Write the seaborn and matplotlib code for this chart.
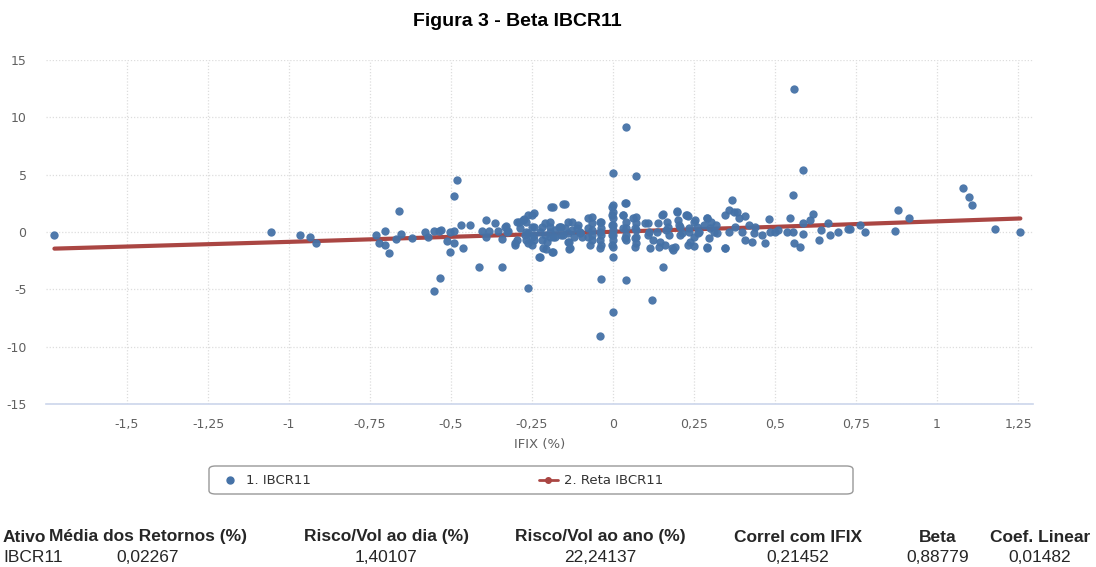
import matplotlib
matplotlib.use("Agg")
import matplotlib.pyplot as plt
import seaborn as sns
import pandas as pd
from matplotlib.lines import Line2D
from matplotlib.patches import FancyBboxPatch

# ---------------- data ----------------
ifix_x = [
    -1.724, -1.057, -0.966, -0.936, -0.916,
    -0.733, -0.722, -0.704, -0.704, -0.692, -0.660, -0.671, -0.653, -0.621, -0.581,
    -0.570, -0.552, -0.537, -0.531, -0.534, -0.513, -0.503, -0.503, -0.492, -0.492,
    -0.481, -0.492, -0.470, -0.463, -0.442, -0.414, -0.403, -0.393, -0.393, -0.382,
    -0.364, -0.354, -0.342, -0.342, -0.331, -0.323, -0.303, -0.295, -0.290, -0.275,
    -0.261, -0.261, -0.261, -0.552,
    -0.270, -0.270, -0.270, -0.245, -0.245, -0.245, -0.245, -0.224, -0.224, -0.209,
    -0.209, -0.207, -0.204, -0.194, -0.194, -0.186, -0.184, -0.179, -0.179, -0.168,
    -0.160, -0.160, -0.148, -0.148, -0.138, -0.135, -0.135, -0.128, -0.128, -0.122,
    -0.107, -0.102, -0.097, -0.066, -0.066, -0.066, -0.066, -0.066, -0.036, -0.036,
    -0.036, -0.036, -0.036, 0.0, 0.0, 0.0, 0.0, 0.0, 0.0, 0.0,
    0.0, 0.0, 0.0, 0.031, 0.041, 0.041, 0.041, 0.041, 0.041, 0.041,
    0.071, 0.071, 0.071, 0.071, 0.071, 0.071, 0.107, 0.112, 0.122, 0.138,
    0.143, 0.153, 0.153, 0.163, 0.168, 0.173, 0.184, 0.191, 0.197, 0.199,
    0.207, 0.214, 0.224, 0.230,
    0.230, 0.235, 0.25, 0.25, 0.25, 0.260, 0.265, 0.281, 0.291, 0.291,
    0.296, 0.301, 0.311, 0.318, 0.347, 0.347, 0.357, 0.357, 0.367, 0.372,
    0.377, 0.382, 0.388, 0.398, 0.408, 0.408, 0.418, 0.428, 0.434, 0.439,
    0.459, 0.469, 0.480, 0.485, 0.5, 0.510, 0.536, 0.546, 0.556, 0.556,
    0.558, 0.577, 0.585, 0.587, 0.587, 0.607, 0.617, 0.636, 0.643, 0.663,
    0.668, 0.694,
    0.724, 0.732, 0.762, 0.779, 0.869, 0.879, 0.912, 1.080, 1.100, 1.109,
    1.178, 1.257,
    0.559, 0.040, 0.001, -0.039, 0.119, -0.261,
    -0.333, -0.328, -0.297, -0.287, -0.302, -0.277, -0.272, -0.251, -0.251, -0.251,
    -0.251, -0.230, -0.220, -0.220, -0.215, -0.192, -0.194, -0.194, -0.189, -0.184,
    -0.164, -0.153, -0.153, -0.138, -0.138, -0.133, -0.112, -0.102, -0.076, -0.076,
    -0.076, -0.071, -0.040, -0.040, -0.040, -0.040, -0.004, -0.004, -0.004, -0.004,
    -0.004,
    0.037, 0.032, 0.032, 0.037, 0.063, 0.068, 0.068, 0.068, 0.099, 0.109,
    0.114, 0.135, 0.145, 0.150, 0.160, 0.171, 0.181, 0.197, 0.202, 0.207,
    0.227, 0.233, 0.238, 0.253, 0.263, 0.289, 0.289, 0.299, 0.320, 0.346,
]
ibcr_y = [
    -0.26, 0.03, -0.26, -0.44, -0.96,
    -0.29, -0.99, 0.09, -1.14, -1.84, 1.84, -0.61, -0.18, -0.50, -0.03,
    -0.47, 0.09, 0.09, 0.18, -3.98, -0.82, -1.73, -0.03, 0.09, 3.16,
    4.56, -0.99, 0.61, -1.43, 0.61, -3.04, 0.09, 1.02, -0.41, 0.12,
    0.76, 0.09, -0.61, -3.04, 0.50, 0.09, -1.14, -0.70, 0.91, 1.11,
    1.49, -0.12, -0.99, -5.14,
    0.91, 0.03, -0.70, 1.64, 0.47, -0.26, -0.70, -2.16, 0.03, 0.76,
    -0.26, -1.52, -0.85, 0.47, -0.41, 2.22, -1.73, 0.18, -0.41, 0.47,
    0.47, -0.26, 2.46, 0.32, -0.12, -0.85, -1.52, 0.91, 0.18, -0.41,
    0.61, 0.03, -0.41, 1.35, 0.76, 0.18, -0.26, -0.70, 0.91, 0.32,
    -0.26, -1.14, -4.06, 5.15, 2.37, 1.78, 1.20, 0.61, 0.18, -0.26,
    -0.70, -1.29, -2.16, 1.49, 2.51, 0.91, 0.32, -0.26, -0.70, -4.21,
    4.85, 1.35, 0.76, 0.18, -0.41, -0.99, 0.76, 0.03, -0.70, 0.76,
    -1.35, 1.58, -3.04, 0.18, 0.91, -0.26, -1.58, -1.35, 1.87, 1.05,
    0.47, -0.12, 1.49, -1.14,
    1.40, 0.03, 0.91, -0.41, -1.23, 0.47, 0.03, 0.61, 1.20, -1.43,
    -0.56, 0.91, 0.03, 0.61, 1.49, -1.43, 1.93, 0.03, 2.75, 1.78,
    0.47, 1.78, 1.20, 0.03, 1.40, -0.70, 0.61, -0.85, -0.12, 0.47,
    -0.26, -0.94, 1.11, 0.03, 0.03, 0.18, 0.03, 1.20, 3.25, 0.03,
    -0.94, -1.35, 5.38, 0.76, -0.18, 1.05, 1.55, -0.70, 0.18, 0.76,
    -0.26, 0.03,
    0.23, 0.29, 0.61, 0.00, 0.12, 1.93, 1.23, 3.86, 3.04, 2.34,
    0.29, 0.00,
    12.47, 9.13, -6.98, -9.10, -5.96, -4.85,
    0.46, 0.03, 0.90, 0.32, -0.99, 1.05, -0.26, 1.48, 0.46, -0.41,
    -1.13, -2.15, 0.46, -0.70, -1.42, 2.21, 0.90, 0.03, -1.72, -0.41,
    0.46, 2.41, -0.26, 0.90, -0.84, -1.42, 0.32, -0.12, 1.19, 0.32,
    -0.41, -1.13, 0.90, 0.03, -0.70, -1.42, 2.21, 1.48, 0.61, -0.26,
    -1.13,
    2.50, 1.48, 0.32, -0.55, 1.19, 0.32, -0.55, -1.28, 0.76, -0.26,
    -1.42, 0.03, -0.84, 1.48, -1.13, 0.46, -1.42, 1.77, 0.61, -0.26,
    1.48, 0.32, -0.84, 1.05, -0.12, 1.19, -1.28, 0.32, -0.12, -1.42,
]
reta_x = [-1.724, -1.0, -0.5, 0.0, 0.5, 1.0, 1.257]
reta_y = [-1.45, -0.86, -0.42, 0.02, 0.45, 0.93, 1.18]

x_ticks = [-1.5, -1.25, -1.0, -0.75, -0.5, -0.25, 0.0, 0.25, 0.5, 0.75, 1.0, 1.25]
x_tick_labels = ["-1,5", "-1,25", "-1", "-0,75", "-0,5", "-0,25", "0", "0,25", "0,5", "0,75", "1", "1,25"]
y_ticks = [-15, -10, -5, 0, 5, 10, 15]
y_tick_labels = ["-15", "-10", "-5", "0", "5", "10", "15"]

series_names = ["1. IBCR11", "2. Reta IBCR11"]
table_headers = ["Ativo", "Média dos Retornos (%)", "Risco/Vol ao dia (%)",
                 "Risco/Vol ao ano (%)", "Correl com IFIX", "Beta", "Coef. Linear"]
table_values = ["IBCR11", "0,02267", "1,40107", "22,24137", "0,21452", "0,88779", "0,01482"]

title = "Figura 3 - Beta IBCR11"
x_label = "IFIX (%)"

# ---------------- style ----------------
sns.set_theme(style="white")
plt.rcParams["font.family"] = ["DejaVu Sans"]
TXT_FAM = ["Liberation Sans", "DejaVu Sans"]

BLUE = "#4572A7"
RED = "#AA4643"
W, H = 1096, 567

fig = plt.figure(figsize=(10.96, 5.67), dpi=100)
ax = fig.add_axes([46 / W, 1 - 404 / H, (1033 - 46) / W, (404 - 60) / H])

n = min(len(ifix_x), len(ibcr_y))
df = pd.DataFrame({"x": ifix_x[:n], "y": ibcr_y[:n]})
reta = pd.DataFrame({"x": reta_x, "y": reta_y})

sns.lineplot(data=reta, x="x", y="y", ax=ax, color=RED, linewidth=3, zorder=3,
             estimator=None, sort=True)
sns.scatterplot(data=df, x="x", y="y", ax=ax, color=BLUE, s=36, linewidth=0,
                zorder=4, alpha=0.95)

ax.set_xlim(-1.75, 1.296)
ax.set_ylim(-15, 15)
ax.set_xticks(x_ticks)
ax.set_xticklabels(x_tick_labels)
ax.set_yticks(y_ticks)
ax.set_yticklabels(y_tick_labels)
ax.tick_params(axis="both", length=0, labelsize=9, labelcolor="#606060")
ax.tick_params(axis="y", pad=14)
ax.tick_params(axis="x", pad=10)
ax.grid(True, color="#dddddd", linestyle=(0, (1, 1.5)), linewidth=0.9)
ax.set_axisbelow(True)
for s in ["top", "left", "right"]:
    ax.spines[s].set_visible(False)
ax.spines["bottom"].set_color("#ccd6eb")
ax.spines["bottom"].set_linewidth(1.2)
ax.set_ylabel("")
ax.set_xlabel(x_label, fontsize=9.5, color="#606060", labelpad=5)

fig.text(517 / W, 1 - 22 / H, title, ha="center", va="center",
         fontsize=14, fontweight="bold", family=TXT_FAM, color="#000000")

# legend frame + two legend entries
frame = FancyBboxPatch((209 / W, 1 - 494 / H), (853 - 209) / W, 28 / H,
                       boxstyle="round,pad=0,rounding_size=0.006",
                       transform=fig.transFigure, facecolor="white",
                       edgecolor="#999999", linewidth=1.0, zorder=1)
fig.patches.append(frame)
handles = [
    Line2D([0], [0], marker="o", color=BLUE, linestyle="none", markersize=5),
    Line2D([0], [0], marker="o", color=RED, linewidth=2, markersize=4),
]
for h, name, lx in zip(handles, series_names, [214, 532]):
    lg = fig.legend([h], [name], loc="center left",
                    bbox_to_anchor=(lx / W, 1 - 481 / H), frameon=False,
                    fontsize=9.5, handlelength=1.5, handletextpad=0.4, borderpad=0.0)
    for t in lg.get_texts():
        t.set_color("#333333")

# table below
col_x = [3, 148, 386, 600, 798, 938, 1040]
col_ha = ["left", "center", "center", "center", "center", "center", "center"]
for cx, ha, hd, v in zip(col_x, col_ha, table_headers, table_values):
    fig.text(cx / W, 1 - 537 / H, hd, ha=ha, va="center", fontsize=12.5,
             fontweight="bold", family=TXT_FAM)
    fig.text(cx / W, 1 - 557 / H, v, ha=ha, va="center", fontsize=12.5,
             family=TXT_FAM)

fig.savefig("out.png", dpi=100)
